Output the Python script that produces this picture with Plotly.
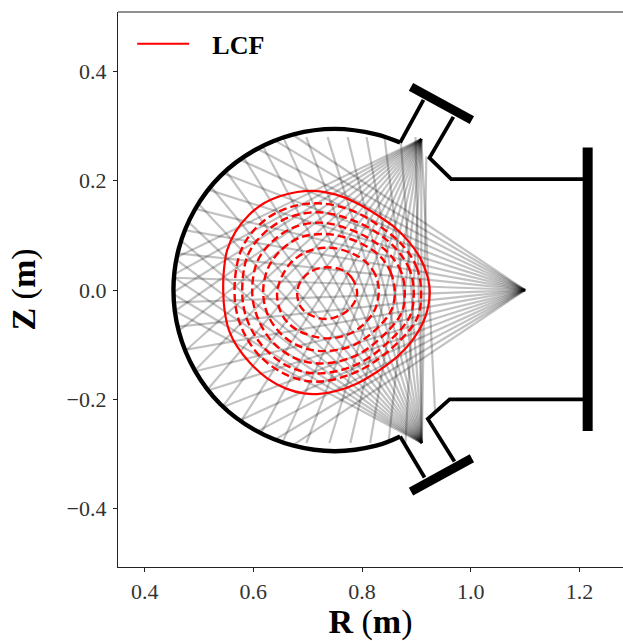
import math
import plotly.graph_objects as go

# Vessel wall (m)
arc_R = [.870, .826, .750, .674, .6015, .539, .4925, .463, .453, .463, .4925, .539, .6015, .674, .750, .826, .870]
arc_Z = [.270, .285, .295, .285, .2555, .2086, .1475, .0764, 0, -.0764, -.1475, -.2086, -.2555, -.285, -.295, -.285, -.268]

port_top_a_R = [.870, .913]
port_top_a_Z = [.270, .348]
port_top_b_R = [.968, .924, .964, 1.215]
port_top_b_Z = [.317, .242, .203, .203]
port_bot_a_R = [.870, .915]
port_bot_a_Z = [-.268, -.343]
port_bot_b_R = [.970, .921, .961, 1.215]
port_bot_b_Z = [-.314, -.236, -.200, -.200]

det_top_R = [.890, 1.002]
det_top_Z = [.372, .311]
det_bot_R = [.890, 1.002]
det_bot_Z = [-.369, -.308]
det_mid_R = [1.215, 1.215]
det_mid_Z = [.261, -.258]

# Sightline fans
apex_mid = (1.10, 0.0)
apex_top = (.909, .2766)
apex_bot = (.910, -.280)
mid_slopes = [.665, .595, .525, .455, .385, .315, .245, .175, .105, .035,
              -.035, -.105, -.175, -.245, -.315, -.385, -.455, -.525, -.595, -.665]
top_angles = [25.7, 28.6, 31.6, 34.8, 38.2, 41.8, 45.5, 49.4, 53.3, 57.3,
              61.3, 65.3, 69.2, 73.1, 76.8, 80.4, 83.8, 87.0, 90.0, 92.9]
bot_angles = [28.0, 30.8, 33.6, 36.6, 39.9, 43.3, 46.8, 50.4, 54.1, 57.9,
              61.7, 65.5, 69.2, 72.8, 76.3, 79.7, 83.0, 86.0, 88.8, 90.9]
bot_last_ray_top = .245

# Last closed flux surface
lcf_R = [.9245, .9196, .9073, .8859, .8583, .8277, .7970, .7633, .7358, .7113, .6806, .6500, .6194, .5918, .5673, .5519, .5458,
         .5446, .5470, .5550, .5703, .5948, .6255, .6592, .6929, .7174, .7542, .7909, .8277, .8645, .8951, .9165, .9245]
lcf_Z = [-.003, .0275, .0580, .0886, .1160, .1374, .1557, .1710, .1783, .1814, .1795, .1722, .1588, .1374, .1069, .0733, .0367,
         -.003, -.0366, -.0732, -.1037, -.1343, -.1617, -.1800, -.1892, -.1904, -.1843, -.1709, -.1495, -.1221, -.0885, -.0488, -.003]

# Inner flux surfaces
c6_R = [.9086, .9012, .8767, .8338, .7787, .7174, .6561, .6071, .5765, .5654, .5752, .6102, .6622, .7174, .7970, .8706, .9024, .9086]
c6_Z = [-.003, .0397, .0794, .116, .1466, .1588, .1478, .116, .0703, -.003, -.061, -.119, -.1556, -.1678, -.1465, -.0915, -.0488, -.003]
c5_R = [.8951, .8877, .8644, .8246, .7725, .7205, .6653, .6194, .5899, .5795, .5887, .6206, .6684, .7235, .7970, .8614, .8890, .8951]
c5_Z = [-.003, .0367, .0733, .1069, .1313, .1423, .1331, .1038, .0641, -.003, -.0549, -.1068, -.1416, -.1526, -.1330, -.0824, -.0457, -.003]
c4_R = [.8785, .8718, .8491, .8124, .7664, .7235, .6745, .6347, .6071, .5979, .6071, .6347, .6776, .7266, .7909, .8491, .8736, .8785]
c4_Z = [-.003, .0336, .0672, .0947, .1148, .1234, .1148, .0886, .0519, -.003, -.0488, -.0946, -.1251, -.1343, -.1190, -.0732, -.0396, -.003]
c3_R = [.8602, .8534, .8338, .8001, .7633, .7296, .6868, .6500, .6267, .6181, .6267, .6531, .6898, .7327, .7848, .8338, .8553, .8602]
c3_Z = [-.003, .0306, .0611, .0843, .0977, .1026, .0965, .0721, .0397, -.003, -.0457, -.0824, -.1050, -.1117, -.1007, -.0641, -.0335, -.003]
c2_R = [.8307, .8246, .8062, .7787, .7388, .6990, .6653, .6439, .6531, .6806, .7358, .7848, .8216, .8307]
c2_Z = [-.003, .0275, .0519, .0684, .0776, .0703, .0458, -.003, -.0457, -.0732, -.0885, -.0763, -.0396, -.003]
c1_R = [.7909, .7817, .7633, .7327, .7051, .6868, .6806, .6868, .7051, .7358, .7664, .7848, .7909]
c1_Z = [-.0048, .0214, .0367, .0416, .0336, .0153, -.0048, -.0305, -.0457, -.0531, -.0427, -.0244, -.0048]
surfaces = [(c1_R, c1_Z), (c2_R, c2_Z), (c3_R, c3_Z), (c4_R, c4_Z), (c5_R, c5_Z), (c6_R, c6_Z)]

xticks = [.4, .6, .8, 1.0, 1.2]
yticks = [-.4, -.2, 0, .2, .4]

wall_R = list(reversed(port_top_a_R)) + arc_R[1:-1] + port_bot_a_R
wall_Z = list(reversed(port_top_a_Z)) + arc_Z[1:-1] + port_bot_a_Z
segments = list(zip(zip(wall_R, wall_Z), zip(wall_R[1:], wall_Z[1:])))
for rr, zz in ((port_top_b_R, port_top_b_Z), (port_bot_b_R, port_bot_b_Z)):
    segments += list(zip(zip(rr, zz), zip(rr[1:], zz[1:])))


def hit(origin, d, zlim=None):
    best = 5.0
    for (a, b) in segments:
        ex, ey = b[0] - a[0], b[1] - a[1]
        den = d[0] * ey - d[1] * ex
        if abs(den) < 1e-12:
            continue
        t = ((a[0] - origin[0]) * ey - (a[1] - origin[1]) * ex) / den
        s = ((a[0] - origin[0]) * d[1] - (a[1] - origin[1]) * d[0]) / den
        if t > 1e-6 and -1e-9 <= s <= 1 + 1e-9 and t < best:
            best = t
    x, y = origin[0] + best * d[0], origin[1] + best * d[1]
    if zlim is not None and abs(y) > zlim:
        target = zlim if y > 0 else -zlim
        f = (target - origin[1]) / (y - origin[1])
        x, y = origin[0] + f * (x - origin[0]), origin[1] + f * (y - origin[1])
    return x, y


fig = go.Figure()


def add_ray(o, d, zlim=None):
    x, y = hit(o, d, zlim)
    fig.add_trace(go.Scatter(x=[o[0], x], y=[o[1], y], mode="lines", showlegend=False, hoverinfo="skip",
                             line=dict(color="rgba(0,0,0,0.24)", width=2.2)))


for m in mid_slopes:
    add_ray(apex_mid, (-1, m))
for a in top_angles:
    add_ray(apex_top, (-math.cos(math.radians(a)), -math.sin(math.radians(a))), .28)
for i, a in enumerate(bot_angles):
    lim = bot_last_ray_top if i == len(bot_angles) - 1 else .28
    add_ray(apex_bot, (-math.cos(math.radians(a)), math.sin(math.radians(a))), lim)

fig.add_trace(go.Scatter(x=lcf_R, y=lcf_Z, mode="lines", name="\u00a0\u00a0\u2009<b>LCF</b>",
                         line=dict(color="#ff0000", width=2.2, shape="spline")))
for rr, zz in surfaces:
    fig.add_trace(go.Scatter(x=rr, y=zz, mode="lines", showlegend=False,
                             line=dict(color="#ff0000", width=2.4, shape="spline", dash="8px,4px")))

fig.add_trace(go.Scatter(x=arc_R, y=arc_Z, mode="lines", showlegend=False,
                         line=dict(color="black", width=4.4, shape="spline")))
for rr, zz in ((port_top_a_R, port_top_a_Z), (port_top_b_R, port_top_b_Z),
               (port_bot_a_R, port_bot_a_Z), (port_bot_b_R, port_bot_b_Z)):
    fig.add_trace(go.Scatter(x=rr, y=zz, mode="lines", showlegend=False,
                             line=dict(color="black", width=3.8)))
for rr, zz, w in ((det_top_R, det_top_Z, 9), (det_bot_R, det_bot_Z, 9), (det_mid_R, det_mid_Z, 10)):
    fig.add_trace(go.Scatter(x=rr, y=zz, mode="lines", showlegend=False,
                             line=dict(color="black", width=w)))

SERIF = "Liberation Serif, serif"
axis = dict(showgrid=False, zeroline=False, showline=True, linecolor="#222", linewidth=1.2,
            ticks="outside", ticklen=4, tickwidth=1, tickcolor="#222",
            tickfont=dict(family=SERIF, size=22, color="#333"), tickformat=".1f")
fig.update_layout(
    width=623, height=641, margin=dict(l=118, r=0, t=12, b=74),
    paper_bgcolor="white", plot_bgcolor="white",
    xaxis=dict(axis, range=[.351, 1.280], tickvals=xticks,
               title=dict(text="\u00a0<b>R</b> (<b>m</b>)", font=dict(family=SERIF, size=34, color="black"), standoff=8)),
    yaxis=dict(axis, range=[-.507, .509], tickvals=yticks, ticklabelstandoff=2,
               title=dict(text="<b>Z</b> (<b>m</b>)", font=dict(family=SERIF, size=34, color="black"), standoff=20)),
    legend=dict(x=.028, y=.985, xanchor="left", yanchor="top", bgcolor="rgba(0,0,0,0)", itemwidth=52,
                font=dict(family=SERIF, size=26, color="black")),
    shapes=[dict(type="line", xref="paper", yref="paper", x0=0, x1=1, y0=1, y1=1,
                 line=dict(color="#222", width=1.2))],
)
fig.write_html("out.html", config={"displayModeBar": False}, post_script="document.body.style.margin='0';")
